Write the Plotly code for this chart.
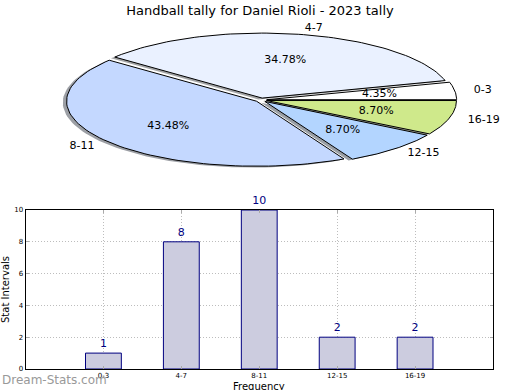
import numpy as np
import plotly.graph_objects as go

# ---------------- data ----------------
categories = ["0-3", "4-7", "8-11", "12-15", "16-19"]
counts = [1, 8, 10, 2, 2]
pie_colors = ["#ffffff", "#eaf1ff", "#c4d8ff", "#b3d5ff", "#cfe98b"]
title_text = "Handball tally for Daniel Rioli - 2023 tally"
x_title = "Frequency"
y_title = "Stat Intervals"
y_ticks = [0, 2, 4, 6, 8, 10]
watermark = "Dream-Stats.com"

W, H = 520, 390
FONT = "DejaVu Sans"

fig = go.Figure()

# ---------------- elliptical exploded pie (pixel-space axes x2/y2) ----------------
cx, cy, ra, rb = 261.0, 100.0, 190.0, 65.0
explode = 0.03
shadow_off = 0.02
total = float(sum(counts))
fracs = [c / total for c in counts]
starts = np.concatenate([[0.0], np.cumsum(fracs)[:-1]]) * 360.0
ends = np.cumsum(fracs) * 360.0


def hex_rgb(h):
    h = h.lstrip("#")
    return [int(h[i:i + 2], 16) for i in (0, 2, 4)]


wedges = []
for cat, fr, s, e, col in zip(categories, fracs, starts, ends, pie_colors):
    mid = np.radians((s + e) / 2)
    ox = explode * ra * np.cos(mid)
    oy = -explode * rb * np.sin(mid)
    th = np.radians(np.linspace(s, e, 80))
    xs = np.concatenate([[cx + ox], cx + ox + ra * np.cos(th), [cx + ox]])
    ys = np.concatenate([[cy + oy], cy + oy - rb * np.sin(th), [cy + oy]])
    wedges.append((cat, fr, mid, ox, oy, xs, ys, col))

# shadows
for cat, fr, mid, ox, oy, xs, ys, col in wedges:
    r, g, b = hex_rgb(col)
    fig.add_trace(go.Scatter(
        x=xs - shadow_off * ra, y=ys + shadow_off * rb, mode="lines", fill="toself",
        fillcolor=f"rgba({int(0.3*r)},{int(0.3*g)},{int(0.3*b)},0.5)",
        line=dict(width=0), xaxis="x2", yaxis="y2", hoverinfo="skip", showlegend=False))

# wedges
for cat, fr, mid, ox, oy, xs, ys, col in wedges:
    fig.add_trace(go.Scatter(
        x=xs, y=ys, mode="lines", fill="toself", fillcolor=col,
        line=dict(color="#000000", width=1), xaxis="x2", yaxis="y2",
        hoverinfo="skip", showlegend=False))

# labels and percentages
for cat, fr, mid, ox, oy, xs, ys, col in wedges:
    lx = cx + ox + 1.1 * ra * np.cos(mid)
    ly = cy + oy - 1.1 * rb * np.sin(mid)
    pos = "middle right" if np.cos(mid) >= 0 else "middle left"
    fig.add_trace(go.Scatter(
        x=[lx], y=[ly], mode="text", text=[cat], textposition=pos,
        textfont=dict(family=FONT, size=11, color="#000000"),
        xaxis="x2", yaxis="y2", hoverinfo="skip", showlegend=False))
    px_ = cx + ox + 0.6 * ra * np.cos(mid)
    py_ = cy + oy - 0.6 * rb * np.sin(mid)
    fig.add_trace(go.Scatter(
        x=[px_], y=[py_], mode="text", text=[f"{fr*100:.2f}%"], textposition="middle center",
        textfont=dict(family=FONT, size=11, color="#000000"),
        xaxis="x2", yaxis="y2", hoverinfo="skip", showlegend=False))

# ---------------- bar chart ----------------
fig.add_trace(go.Bar(
    x=categories, y=counts, width=0.46,
    marker=dict(color="#ccccdf", line=dict(color="#000080", width=1)),
    text=[str(v) for v in counts], textposition="outside",
    textfont=dict(family=FONT, size=11, color="#000080"),
    cliponaxis=False, showlegend=False, xaxis="x", yaxis="y"))

x0, x1 = 25.5 / W, 493.0 / W
y0, y1 = (H - 369.0) / H, (H - 210.0) / H

axis_common = dict(
    showline=True, linecolor="#000000", linewidth=1, mirror="ticks",
    ticks="inside", ticklen=3, tickcolor="#aaaaaa",
    showgrid=True, gridcolor="#bdbdbd", griddash="1px,2px", gridwidth=1,
    tickfont=dict(family=FONT, size=7, color="#000000"),
    automargin=False, zeroline=False, fixedrange=True, layer="above traces",
)

fig.update_layout(
    width=W, height=H,
    margin=dict(l=0, r=0, t=0, b=0),
    paper_bgcolor="white", plot_bgcolor="rgba(0,0,0,0)",
    template="none",
    font=dict(family=FONT, color="#000000"),
    title=dict(text=title_text, x=0.5, xanchor="center", y=1 - 10.5 / H, yanchor="middle",
               font=dict(family=FONT, size=13, color="#000000")),
    xaxis=dict(domain=[x0, x1], type="category", range=[-1, 5], **axis_common),
    yaxis=dict(domain=[y0, y1], range=[0, 10], tickvals=y_ticks, **axis_common),
    xaxis2=dict(domain=[0, 1], range=[0, W], anchor="y2", visible=False, fixedrange=True),
    yaxis2=dict(domain=[0, 1], range=[H, 0], anchor="x2", visible=False, fixedrange=True),
    annotations=[
        dict(text=x_title, x=(x0 + x1) / 2, y=(H - 386.0) / H,
             xref="paper", yref="paper", showarrow=False, xanchor="center", yanchor="middle",
             font=dict(family=FONT, size=10, color="#000000")),
        dict(text=y_title, x=5.0 / W, y=(H - 290.0) / H, xref="paper", yref="paper",
             showarrow=False, textangle=-90, xanchor="center", yanchor="middle",
             font=dict(family=FONT, size=10, color="#000000")),
        dict(text=watermark, x=0.0, y=(H - 380.0) / H, xref="paper", yref="paper",
             showarrow=False, xanchor="left", yanchor="middle",
             font=dict(family=FONT, size=12, color="#999999")),
    ],
)

fig.write_html("out.html", config={"displayModeBar": False},
               post_script="document.body.style.margin='0';document.body.style.padding='0';")
